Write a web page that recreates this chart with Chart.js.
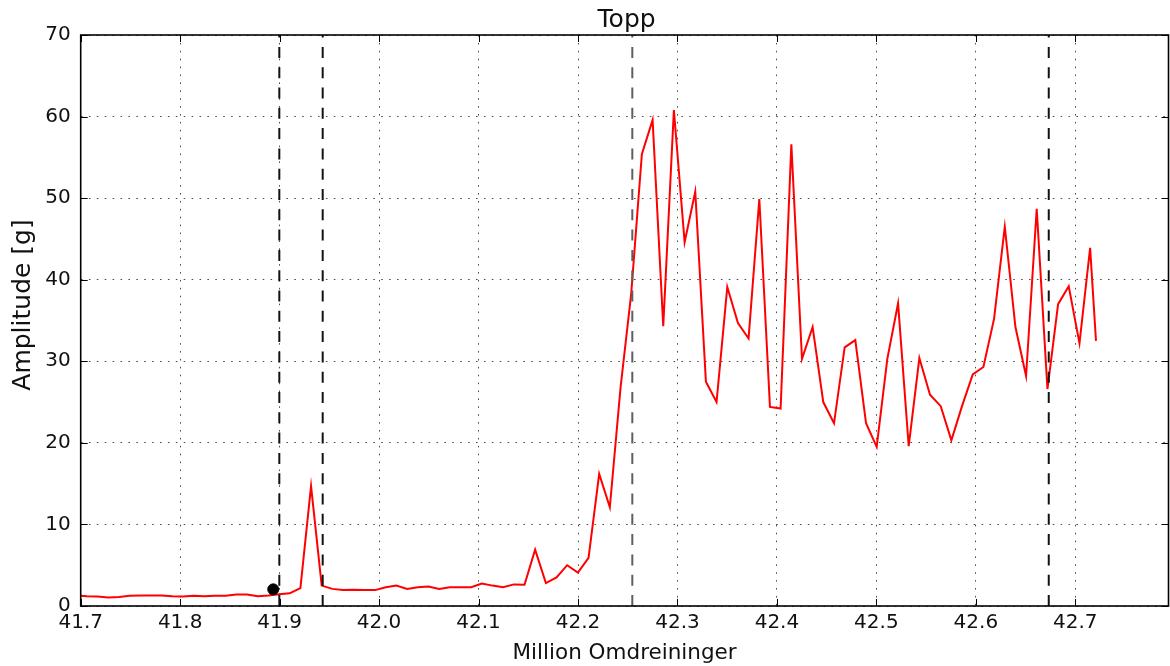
<!DOCTYPE html>
<html>
<head>
<meta charset="utf-8">
<script src="https://cdn.jsdelivr.net/npm/chart.js@4.4.1/dist/chart.umd.min.js"></script>
<style>
  html, body { margin: 0; padding: 0; background: #ffffff; overflow: hidden; }
  #wrap { width: 1175px; height: 666px; }
</style>
</head>
<body>
<div id="wrap"><canvas id="c" width="1175" height="666"></canvas></div>
<script>
// Revolutions (millions) of each measurement
const revolutions = [
  41.6955, 41.7063, 41.7170, 41.7277, 41.7385, 41.7492, 41.7599, 41.7707, 41.7814, 41.7921,
  41.8028, 41.8136, 41.8243, 41.8350, 41.8458, 41.8565, 41.8672, 41.8780, 41.8887, 41.8994,
  41.9101, 41.9209, 41.9316, 41.9423, 41.9531, 41.9638, 41.9745, 41.9853, 41.9960, 42.0067,
  42.0174, 42.0282, 42.0389, 42.0496, 42.0604, 42.0711, 42.0818, 42.0926, 42.1033, 42.1140,
  42.1247, 42.1355, 42.1462, 42.1569, 42.1677, 42.1784, 42.1891, 42.1999, 42.2106, 42.2213,
  42.2320, 42.2428, 42.2535, 42.2642, 42.2750, 42.2857, 42.2964, 42.3072, 42.3179, 42.3286,
  42.3393, 42.3501, 42.3608, 42.3715, 42.3823, 42.3930, 42.4037, 42.4145, 42.4252, 42.4359,
  42.4466, 42.4574, 42.4681, 42.4788, 42.4896, 42.5003, 42.5110, 42.5218, 42.5325, 42.5432,
  42.5539, 42.5647, 42.5754, 42.5861, 42.5969, 42.6076, 42.6183, 42.6291, 42.6398, 42.6505,
  42.6612, 42.6720, 42.6827, 42.6934, 42.7042, 42.7149, 42.7208
];

// Peak amplitude [g] at each measurement
const amplitude = [
  1.3, 1.2, 1.15, 1.05, 1.1, 1.25, 1.3, 1.3, 1.3, 1.2,
  1.15, 1.25, 1.2, 1.25, 1.25, 1.4, 1.4, 1.2, 1.3, 1.45,
  1.55, 2.2, 14.7, 2.5, 2.1, 1.95, 2.0, 1.95, 1.95, 2.3,
  2.5, 2.1, 2.3, 2.4, 2.1, 2.3, 2.3, 2.3, 2.75, 2.5,
  2.3, 2.65, 2.6, 6.9, 2.8, 3.5, 5.0, 4.1, 5.9, 16.2,
  12.1, 26.8, 38.3, 55.4, 59.6, 34.3, 60.8, 44.6, 50.8, 27.5,
  25.0, 39.1, 34.7, 32.8, 49.9, 24.4, 24.2, 56.6, 30.3, 34.2,
  25.0, 22.4, 31.7, 32.6, 22.4, 19.5, 30.3, 37.1, 19.6, 30.4,
  25.9, 24.5, 20.3, 24.5, 28.4, 29.3, 35.2, 46.5, 34.2, 28.2,
  48.7, 26.6, 37.0, 39.2, 32.2, 43.9, 32.5
];

// Event markers (vertical dashed lines)
const eventX = [41.8997, 41.9433, 42.2546, 42.6733];
const eventColors = ['#111111', '#111111', '#5e5e5e', '#111111'];

// Highlighted reference point
const refPointX = [41.8936];
const refPointY = [2.04];

// Axis ticks
const xTicks = [41.7, 41.8, 41.9, 42.0, 42.1, 42.2, 42.3, 42.4, 42.5, 42.6, 42.7];
const yTicks = [0, 10, 20, 30, 40, 50, 60, 70];

const chartTitle = 'Topp';
const xTitle = 'Million Omdreininger';
const yTitle = 'Amplitude [g]';

const X_MIN = 41.7, X_MAX = 42.7937, Y_MIN = 0, Y_MAX = 70;
const FONT = 'DejaVu Sans';

const seriesPoints = revolutions.map((r, i) => ({ x: r, y: amplitude[i] }));

const eventSets = eventX.map((ex, i) => ({
  type: 'line',
  data: [{ x: ex, y: Y_MIN }, { x: ex, y: Y_MAX }],
  borderColor: eventColors[i],
  borderWidth: 2,
  borderDash: [11, 9.3],
  pointRadius: 0,
  fill: false,
  order: 0
}));

// Box frame with inward tick marks on all four sides, plus titles centred on the plot box
const framePlugin = {
  id: 'frame',
  afterDatasetsDraw(chart) {
    const { ctx, chartArea: a, scales } = chart;
    const xs = scales.x, ys = scales.y;
    const tl = 7;
    ctx.save();
    ctx.strokeStyle = '#000';
    ctx.lineWidth = 1;
    ctx.beginPath();
    xTicks.forEach(v => {
      const px = Math.round(xs.getPixelForValue(v)) + 0.5;
      ctx.moveTo(px, a.bottom); ctx.lineTo(px, a.bottom - tl);
      ctx.moveTo(px, a.top); ctx.lineTo(px, a.top + tl);
    });
    yTicks.forEach(v => {
      const py = Math.round(ys.getPixelForValue(v)) + 0.5;
      ctx.moveTo(a.left, py); ctx.lineTo(a.left + tl, py);
      ctx.moveTo(a.right, py); ctx.lineTo(a.right - tl, py);
    });
    ctx.stroke();
    ctx.lineWidth = 1.6;
    ctx.strokeRect(a.left, a.top, a.right - a.left, a.bottom - a.top);

    // plot title
    ctx.fillStyle = '#111';
    ctx.textAlign = 'center';
    ctx.textBaseline = 'alphabetic';
    ctx.font = '25px "' + FONT + '"';
    ctx.fillText(chartTitle, (a.left + a.right) / 2 + 2, 27);

    // y-axis title
    ctx.translate(23, 305);
    ctx.rotate(-Math.PI / 2);
    ctx.textBaseline = 'middle';
    ctx.fillText(yTitle, 0, 0);
    ctx.restore();
  }
};

new Chart(document.getElementById('c'), {
  type: 'line',
  data: {
    datasets: [
      {
        type: 'scatter',
        data: refPointX.map((x, i) => ({ x, y: refPointY[i] })),
        backgroundColor: '#000',
        borderColor: '#000',
        pointRadius: 5.5,
        pointHoverRadius: 5.5,
        showLine: false,
        order: -1
      },
      ...eventSets,
      {
        type: 'line',
        data: seriesPoints,
        borderColor: 'rgb(255,0,0)',
        borderWidth: 2,
        pointRadius: 0,
        tension: 0,
        fill: false,
        order: 1
      }
    ]
  },
  options: {
    responsive: false,
    devicePixelRatio: 1,
    animation: false,
    layout: { padding: { left: 0, right: 1.5, top: 35, bottom: 0 } },
    plugins: {
      legend: { display: false },
      tooltip: { enabled: false },
      title: { display: false }
    },
    scales: {
      x: {
        type: 'linear',
        min: X_MIN,
        max: X_MAX,
        afterBuildTicks: s => { s.ticks = xTicks.map(v => ({ value: v })); },
        afterFit: s => { s.height = 60; },
        ticks: {
          callback: v => Number(v).toFixed(1),
          color: '#111',
          font: { family: FONT, size: 20, lineHeight: 1.7 },
          padding: 0,
          maxRotation: 0,
          autoSkip: false
        },
        grid: { color: 'rgba(0,0,0,0.7)', lineWidth: 1, drawTicks: false },
        border: { display: false, dash: [1.6, 6.3] },
        title: {
          display: true,
          text: xTitle,
          color: '#111',
          font: { family: FONT, size: 21.5 },
          padding: { top: 0, bottom: 0 }
        }
      },
      y: {
        type: 'linear',
        min: Y_MIN,
        max: Y_MAX,
        afterBuildTicks: s => { s.ticks = yTicks.map(v => ({ value: v })); },
        afterFit: s => { s.width = 80.7; },
        ticks: {
          callback: v => String(v),
          color: '#111',
          font: { family: FONT, size: 20 },
          padding: 10
        },
        grid: { color: 'rgba(0,0,0,0.7)', lineWidth: 1, drawTicks: false },
        border: { display: false, dash: [1.6, 6.3] },
        title: { display: false }
      }
    }
  },
  plugins: [framePlugin]
});
</script>
</body>
</html>
